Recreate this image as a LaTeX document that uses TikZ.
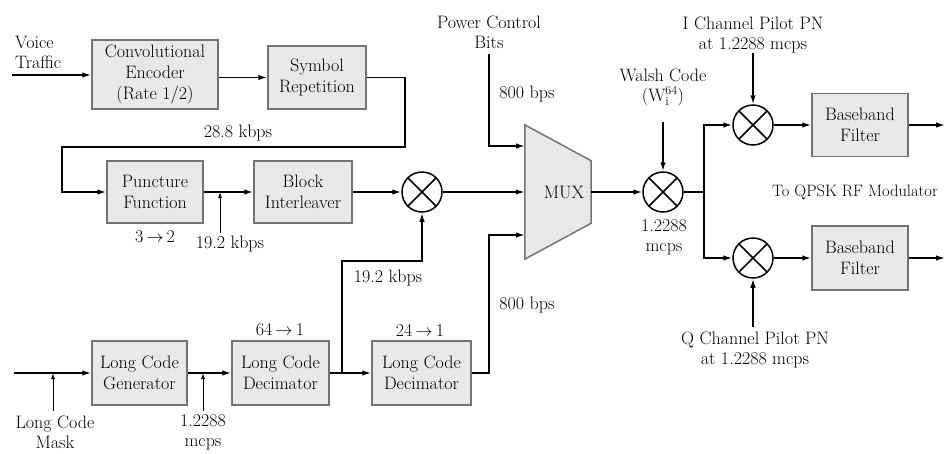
\documentclass[tikz,border=0pt]{standalone}
\usepackage{fontspec}
\usetikzlibrary{arrows.meta}
\begin{document}
\begin{tikzpicture}[x=1pt,y=-1pt,
  every node/.style={font=\fontsize{18}{20}\selectfont},
  blk/.style={draw=black!55, fill=black!9, line width=1.5pt, align=center, inner sep=0pt, font=\fontsize{18}{21}\selectfont},
  mult/.style={circle, draw, line width=1.5pt, minimum size=40pt, inner sep=0pt,
    path picture={\draw[line width=1.5pt] (path picture bounding box.north west) -- (path picture bounding box.south east)
      (path picture bounding box.north east) -- (path picture bounding box.south west);}},
  wire/.style={line width=1.6pt},
  arr/.style={wire, -{Latex[length=9pt,width=5.5pt]}},
  tick/.style={line width=0.9pt, -{Latex[length=6pt,width=4pt]}},
  lbl/.style={align=center, inner sep=0pt},
]
\useasboundingbox (0,0) rectangle (947,453);

% blocks
\node[blk, minimum width=126pt, minimum height=69pt] (conv) at (155,74.5) {Convolutional\\Encoder\\(Rate 1/2)};
\node[blk, minimum width=98pt, minimum height=63pt] (sym) at (317,77.5) {Symbol\\Repetition};
\node[blk, minimum width=96pt, minimum height=62pt] (punct) at (155,192) {Puncture\\Function};
\node[blk, minimum width=98pt, minimum height=62pt] (block) at (303,192) {Block\\Interleaver};
\node[mult] (m1) at (422,192) {};
\node[inner sep=0pt, minimum width=66pt, minimum height=134pt] (mux) at (558,192) {};
\node[mult] (m2) at (663,192) {};
\node[mult] (mI) at (753,125) {};
\node[mult] (mQ) at (753,258) {};
\node[blk, minimum width=96pt, minimum height=63pt] (bbI) at (860,125) {Baseband\\Filter};
\node[blk, minimum width=96pt, minimum height=64pt] (bbQ) at (860,258) {Baseband\\Filter};
\node[blk, minimum width=95pt, minimum height=64pt] (gen) at (139.5,373) {Long Code\\Generator};
\node[blk, minimum width=97pt, minimum height=64pt] (dec1) at (280.5,373) {Long Code\\Decimator};
\node[blk, minimum width=99pt, minimum height=64pt] (dec2) at (421.5,373) {Long Code\\Decimator};

% MUX trapezoid
\draw[draw=black!55, fill=black!9, line width=1.5pt] (mux.north west) -- ([yshift=-36pt]mux.north east)
  -- ([yshift=36pt]mux.south east) -- (mux.south west) -- cycle;
\node (muxlbl) at ([xshift=6pt]mux.center) {MUX};

% voice path
\node[lbl, anchor=west, align=left] (voice) at (15,52) {Voice\\Traffic};
\coordinate (vin) at (12,75);
\draw[arr] (vin) -- (conv.west |- vin);
\draw[arr] (conv.east |- sym.west) -- (sym.west);
\coordinate (c1) at (405,147);
\coordinate (c2) at (62,147);
\draw[arr] (sym.east) -| (c1) -- (c2) |- (punct.west);
\node (r288) at (238,133) {28.8 kbps};
\draw[arr] (punct) -- (block);
\draw[arr] (block) -- (m1);
\coordinate (t1) at (220,233);
\draw[tick] (t1) -- (t1 |- punct.east);
\node[lbl] (p32) at (155,237) {3\,$\rightarrow$\,2};
\node[lbl] (r192a) at (230,244) {19.2 kbps};
\draw[arr] (m1) -- (mux.west |- m1);

% power control
\node[lbl] (pc) at (489,32.5) {Power Control\\Bits};
\coordinate (pcs) at (489,54);
\coordinate (muxin1) at (525,146);
\draw[arr] (pcs) |- (muxin1);
\node (r800a) at (527,94) {800 bps};

% MUX to Walsh
\draw[arr] (mux.east |- m2) -- (m2);
\node[lbl] (walsh) at (663,87) {Walsh Code\\(W$_{\mathrm{i}}^{64}$)};
\coordinate (ws) at (663,122);
\draw[arr] (ws) -- (m2.north);
\node[lbl] (chip) at (664,237.5) {1.2288\\mcps};
\coordinate (br) at (704,192);
\draw[wire] (m2) -- (br);
\draw[arr] (br) |- (mI.west);
\draw[arr] (br) |- (mQ.west);

% I branch
\node[lbl] (ipn) at (753,34.5) {I Channel Pilot PN\\at 1.2288 mcps};
\coordinate (is) at (753,53);
\draw[arr] (is) -- (mI.north);
\draw[arr] (mI) -- (bbI);
\coordinate (oI) at (945,125);
\draw[arr] (bbI) -- (oI);
\node (qpsk) at (855,192) {\fontsize{16.5}{19}\selectfont To QPSK RF Modulator};

% Q branch
\node[lbl] (qpn) at (755,350) {Q Channel Pilot PN\\at 1.2288 mcps};
\coordinate (qs) at (753,327);
\draw[arr] (qs) -- (mQ.south);
\draw[arr] (mQ) -- (bbQ);
\coordinate (oQ) at (945,258);
\draw[arr] (bbQ) -- (oQ);

% long code path
\coordinate (lcin) at (14,373);
\draw[arr] (lcin) -- (gen.west);
\coordinate (t2) at (53,411);
\draw[tick] (t2) -- (t2 |- lcin);
\node[lbl] (lcm) at (55,432) {Long Code\\Mask};
\draw[arr] (gen) -- (dec1);
\coordinate (t3) at (203,411);
\draw[tick] (t3) -- (t3 |- gen.east);
\node[lbl] (chip2) at (203,432) {1.2288\\mcps};
\node (d64) at (280,330) {64\,$\rightarrow$\,1};
\node (d24) at (420,330) {24\,$\rightarrow$\,1};
\draw[arr] (dec1) -- (dec2);
\coordinate (bj) at (342,373);
\coordinate (bu) at (342,261);
\draw[arr] (bj) -- (bu) -| (m1.south);
\node (r192b) at (388,278) {19.2 kbps};
\coordinate (d2t) at (489,235);
\coordinate (muxin3) at (525,235);
\draw[arr] (dec2.east) -| (d2t) -- (muxin3);
\node (r800b) at (527,305) {800 bps};
\end{tikzpicture}
\end{document}
